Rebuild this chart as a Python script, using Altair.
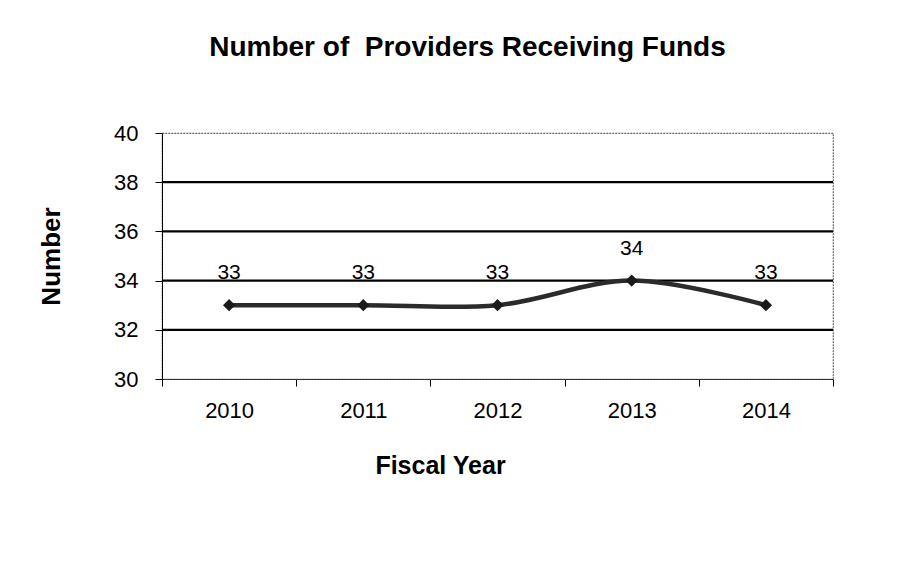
import altair as alt
import pandas as pd

years = ["2010", "2011", "2012", "2013", "2014"]
providers = [33, 33, 33, 34, 33]
grid_values = [32, 34, 36, 38]

df = pd.DataFrame({"year": years, "providers": providers})
grid_df = pd.DataFrame({"g": grid_values})

FONT = "Liberation Sans"

x_axis = alt.Axis(
    title="Fiscal Year",
    labelAngle=0,
    labelFontSize=22,
    labelFont=FONT,
    labelColor="black",
    labelBaseline="alphabetic",
    labelPadding=31,
    tickBand="extent",
    tickSize=7,
    tickColor="black",
    domainColor="#333",
    titleFontSize=25,
    titleFont=FONT,
    titleFontWeight="bold",
    titleColor="black",
    titleBaseline="alphabetic",
    titleX=278,
    titleY=94,
    titleAnchor="start",
    titleAlign="center",
    grid=False,
)

y_axis = alt.Axis(
    title="Number",
    values=[30, 32, 34, 36, 38, 40],
    labelFontSize=22,
    labelFont=FONT,
    labelColor="black",
    labelPadding=17,
    tickSize=7,
    tickColor="black",
    domainColor="black",
    titleFontSize=26,
    titleFont=FONT,
    titleFontWeight="bold",
    titleColor="black",
    titleAngle=-90,
    titleX=-111,
    titleY=123,
    titleBaseline="middle",
    titleAlign="center",
    titleAnchor="start",
    grid=False,
)

x_scale = alt.Scale(type="band", paddingInner=0, paddingOuter=0)
y_scale = alt.Scale(domain=[30, 40], nice=False, zero=False)

x_enc = alt.X("year:O", sort=years, scale=x_scale, axis=x_axis)
y_enc = alt.Y("providers:Q", scale=y_scale, axis=y_axis)

grid = alt.Chart(grid_df).mark_rule(color="black", strokeWidth=2.2).encode(
    y=alt.Y("g:Q", scale=y_scale, axis=y_axis)
)

line = alt.Chart(df).mark_line(
    color="#2b2b2b", strokeWidth=4.5, interpolate="catmull-rom"
).encode(x=x_enc, y=y_enc)

points = alt.Chart(df).mark_point(
    shape="diamond", filled=True, size=150, color="#1a1a1a", opacity=1
).encode(x=x_enc, y=y_enc)

labels = alt.Chart(df).mark_text(
    fontSize=21, font=FONT, color="black", dy=-32, baseline="middle"
).encode(x=x_enc, y=y_enc, text="providers:Q")

chart = (
    alt.layer(grid, line, points, labels)
    .properties(
        width=671,
        height=246,
        autosize=alt.AutoSizeParams(type="none"),
        padding={"left": 154, "top": 125, "right": 50, "bottom": 170},
        title=alt.TitleParams(
            "Number of\u00a0 Providers Receiving Funds",
            font=FONT,
            fontSize=28,
            fontWeight="bold",
            color="black",
            anchor="middle",
            dx=-30,
            offset=60,
        ),
        background="white",
    )
    .configure_view(stroke="#666", strokeWidth=1.2, strokeDash=[2, 1])
)

chart.save("out.html", embed_options={"renderer": "svg", "actions": False})
